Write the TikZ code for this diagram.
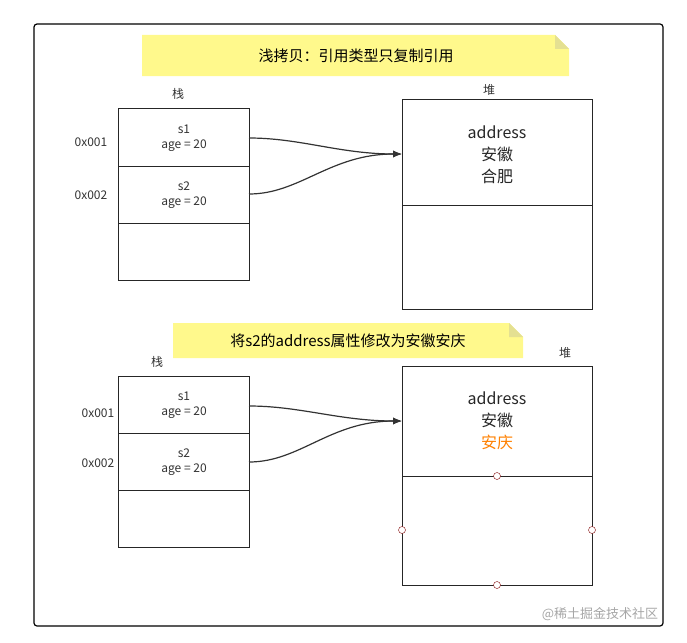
\documentclass[tikz,border=0pt]{standalone}
\usepackage{fontspec}
\setmainfont{Noto Sans CJK SC}
\usetikzlibrary{arrows.meta}
\begin{document}
\begin{tikzpicture}[x=1pt,y=-1pt,
  box/.style={draw=black!85,line width=1pt},
  lbl/.style={font=\fontsize{12}{15}\selectfont,text=black!80,align=center},
  big/.style={font=\fontsize{16}{22}\selectfont,text=black!85,align=center},
  arr/.style={draw=black!80,line width=1.2pt,-{Latex[length=9pt,width=7pt]}},
  note/.style={fill=yellow!45!white},
  pt/.style={circle,draw=red!50!black,fill=white,inner sep=0pt,minimum size=7pt}]
\useasboundingbox (0,0) rectangle (687,642);
\draw[line width=1.2pt,rounded corners=3pt] (34,24) rectangle (663,626);
% note 1
\fill[note] (142,35) -- (555,35) -- (569,49) -- (569,76) -- (142,76) -- cycle;
\fill[yellow!60!gray!60] (555,35) -- (555,49) -- (569,49) -- cycle;
\node[font=\fontsize{15}{18}\selectfont] (n1) at (356,56) {浅拷贝：引用类型只复制引用};
% stack 1
\node[lbl] (k1) at (178,94) {栈};
\draw[box] (118,108) rectangle (249,280);
\draw[box] (118,166) -- (249,166) (118,223) -- (249,223);
\node[lbl] (a1) at (184,138) {s1\\age = 20};
\node[lbl] (b1) at (184,195) {s2\\age = 20};
\node[lbl] (p1) at (91,142) {0x001};
\node[lbl] (q1) at (91,195) {0x002};
\node[lbl] (h1) at (489,90) {堆};
\draw[box] (402,99) rectangle (592,309);
\draw[box] (402,205) -- (592,205);
\node[big] (t1) at (497,155) {address\\安徽\\合肥};
\coordinate (s1o) at (249,138); \coordinate (s2o) at (249,194); \coordinate (hi1) at (402,154);
\draw[arr] (s1o) .. controls (300,138) and (340,154) .. (hi1);
\draw[arr] (s2o) .. controls (300,194) and (330,154) .. (hi1);
% note 2
\fill[note] (173,323) -- (509,323) -- (523,337) -- (523,358) -- (173,358) -- cycle;
\fill[yellow!60!gray!60] (509,323) -- (509,337) -- (523,337) -- cycle;
\node[font=\fontsize{15}{18}\selectfont] (n2) at (348,341) {将s2的address属性修改为安徽安庆};
% stack 2
\node[lbl] (k2) at (157,362) {栈};
\draw[box] (118,376) rectangle (249,547);
\draw[box] (118,433) -- (249,433) (118,490) -- (249,490);
\node[lbl] (a2) at (184,405) {s1\\age = 20};
\node[lbl] (b2) at (184,462) {s2\\age = 20};
\node[lbl] (p2) at (98,413) {0x001};
\node[lbl] (q2) at (98,463) {0x002};
\node[lbl] (h2) at (565,353) {堆};
\draw[box] (402,366) rectangle (592,585);
\draw[box] (402,476) -- (592,476);
\node[big] (t2) at (497,421) {address\\安徽\\\textcolor{orange}{安庆}};
\coordinate (s3o) at (249,406); \coordinate (s4o) at (249,462); \coordinate (hi2) at (402,421);
\draw[arr] (s3o) .. controls (300,406) and (340,421) .. (hi2);
\draw[arr] (s4o) .. controls (300,462) and (330,421) .. (hi2);
\node[pt] (c1) at (497,476) {};
\node[pt] (c2) at (402,530) {};
\node[pt] (c3) at (592,530) {};
\node[pt] (c4) at (497,585) {};
\node[font=\fontsize{13}{15}\selectfont,text=black!35] (wm) at (600,614) {@稀土掘金技术社区};
\end{tikzpicture}
\end{document}
